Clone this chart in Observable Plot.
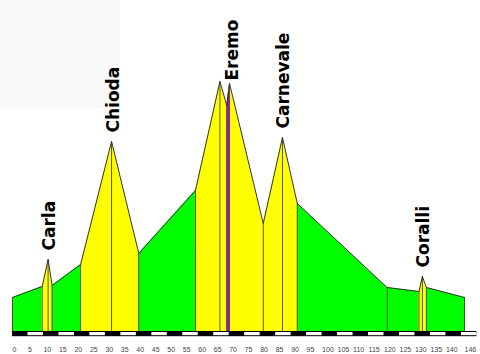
<!DOCTYPE html>
<html>
<head>
<meta charset="utf-8">
<script src="https://cdn.jsdelivr.net/npm/d3@7"></script>
<script src="https://cdn.jsdelivr.net/npm/@observablehq/plot@0.6"></script>
<style>
  html, body { margin: 0; padding: 0; background: #fff; }
  #wrap { position: relative; width: 480px; height: 354px; }
  #shade { position: absolute; left: 0; top: 0; width: 120px; height: 108px; background: #f9f9f9; }
  #chart { position: absolute; left: 0; top: 0; }
</style>
</head>
<body>
<div id="wrap"><div id="shade"></div><div id="chart"></div></div>
<script>
// Stage profile: km boundaries and elevations (m) at each boundary
const boundariesKm = [0, 9.6, 11.5, 12.8, 22.0, 32.0, 40.8, 59.1, 67.0, 69.2, 70.1, 81.0, 87.2, 92.0, 121.0, 131.3, 132.4, 133.7, 146];
const elevations   = [170, 225, 360, 230, 335, 950, 390, 705, 1250, 1130, 1240, 540, 970, 640, 220, 200, 275, 220, 170];
// Category of each segment between consecutive boundaries
const segmentTypes = ["flat","climb","climb","flat","climb","climb","flat","climb","climb","summit","climb","climb","climb","flat","flat","climb","climb","flat"];
const typeColors = {flat: "#00ff00", climb: "#ffff00", summit: "#b400e6"};

// Climb names and their summits
const climbNames = ["Carla", "Chioda", "Eremo", "Carnevale", "Coralli"];
const climbKm    = [11.5, 32.0, 70.1, 87.2, 132.4];
const climbElev  = [360, 950, 1240, 970, 275];

// Distance scale bar and tick labels
const barKm = [0, 150];
const stripeStarts = d3.range(5, 150, 10);
const tickLabels = [0,5,10,15,20,25,30,35,40,45,50,55,60,65,70,75,80,85,90,95,100,105,110,115,120,125,130,135,140,146];

// Build tables from the arrays
const areaPoints = segmentTypes.flatMap((t, i) => [
  {seg: i, km: boundariesKm[i], elev: elevations[i], color: typeColors[t]},
  {seg: i, km: boundariesKm[i + 1], elev: elevations[i + 1], color: typeColors[t]}
]);
const profile = boundariesKm.map((km, i) => ({km, elev: elevations[i]}));
const climbs = climbNames.map((name, i) => ({name, km: climbKm[i], elev: climbElev[i]}));
const stripes = stripeStarts.map(s => ({x1: s, x2: s + 5}));
const ticks = tickLabels.map(v => ({km: v, label: String(v)}));

const plot = Plot.plot({
  width: 480,
  height: 354,
  marginTop: 0, marginRight: 0, marginBottom: 0, marginLeft: 0,
  x: {domain: [0, 146], range: [12, 464], axis: null},
  y: {domain: [0, 1300], range: [331, 71], axis: null},
  color: {type: "identity"},
  style: {fontFamily: "'DejaVu Sans', sans-serif", background: "transparent"},
  marks: [
    Plot.areaY(areaPoints, {x: "km", y1: 0, y2: "elev", z: "seg", fill: "color", curve: "linear"}),
    Plot.ruleX(profile, {x: "km", y1: 0, y2: "elev", stroke: "#55552a", strokeWidth: 1}),
    Plot.line(profile, {x: "km", y: "elev", stroke: "#333", strokeWidth: 1}),
    Plot.rect([{x1: barKm[0], x2: barKm[1]}], {x1: "x1", x2: "x2", y1: 0, y2: -26, fill: "#000"}),
    Plot.rect(stripes, {x1: "x1", x2: "x2", y1: -5, y2: -21, fill: "#fff"}),
    Plot.text(ticks, {x: "km", y: -92, text: "label", textAnchor: "start", fontSize: 7, fill: "#444",
      fontFamily: "'Liberation Sans', Arial, sans-serif"}),
    Plot.text(climbs.filter(d => d.name !== "Eremo"), {x: "km", y: "elev", text: "name", rotate: -90,
      textAnchor: "start", dx: 1.5, dy: -9, fontSize: 17, fontWeight: "bold", fill: "#000"}),
    Plot.text(climbs.filter(d => d.name === "Eremo"), {x: "km", y: "elev", text: "name", rotate: -90,
      textAnchor: "start", dx: 3, dy: -3, fontSize: 17, fontWeight: "bold", fill: "#000"})
  ]
});
document.getElementById("chart").appendChild(plot);
</script>
</body>
</html>
